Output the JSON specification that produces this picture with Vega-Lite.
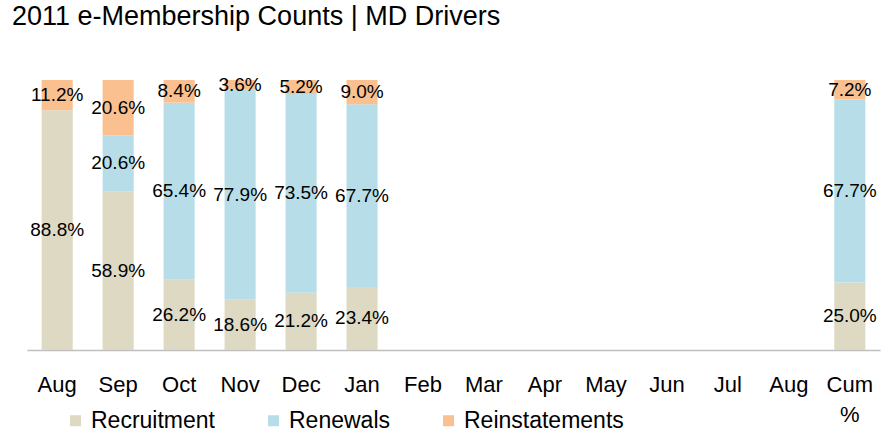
{
  "$schema": "https://vega.github.io/schema/vega-lite/v6.json",
  "width": 853,
  "height": 270,
  "autosize": {"type": "none"},
  "padding": {"left": 27, "top": 80, "right": 7, "bottom": 93},
  "background": "white",
  "title": {
    "text": "2011 e-Membership Counts | MD Drivers",
    "anchor": "start",
    "frame": "group",
    "font": "Liberation Sans",
    "fontSize": 27,
    "fontWeight": "normal",
    "color": "black",
    "dx": -15,
    "offset": 45
  },
  "data": {
    "values": [
      {"month": "Aug", "series": "Recruitment", "k": 1, "value": 0.888},
      {"month": "Aug", "series": "Reinstatements", "k": 3, "value": 0.112},
      {"month": "Sep", "series": "Recruitment", "k": 1, "value": 0.589},
      {"month": "Sep", "series": "Renewals", "k": 2, "value": 0.206},
      {"month": "Sep", "series": "Reinstatements", "k": 3, "value": 0.206},
      {"month": "Oct", "series": "Recruitment", "k": 1, "value": 0.262},
      {"month": "Oct", "series": "Renewals", "k": 2, "value": 0.654},
      {"month": "Oct", "series": "Reinstatements", "k": 3, "value": 0.084},
      {"month": "Nov", "series": "Recruitment", "k": 1, "value": 0.186},
      {"month": "Nov", "series": "Renewals", "k": 2, "value": 0.779},
      {"month": "Nov", "series": "Reinstatements", "k": 3, "value": 0.036},
      {"month": "Dec", "series": "Recruitment", "k": 1, "value": 0.212},
      {"month": "Dec", "series": "Renewals", "k": 2, "value": 0.735},
      {"month": "Dec", "series": "Reinstatements", "k": 3, "value": 0.052},
      {"month": "Jan", "series": "Recruitment", "k": 1, "value": 0.234},
      {"month": "Jan", "series": "Renewals", "k": 2, "value": 0.677},
      {"month": "Jan", "series": "Reinstatements", "k": 3, "value": 0.09},
      {"month": "Cum", "series": "Recruitment", "k": 1, "value": 0.25},
      {"month": "Cum", "series": "Renewals", "k": 2, "value": 0.677},
      {"month": "Cum", "series": "Reinstatements", "k": 3, "value": 0.072}
    ]
  },
  "encoding": {
    "x": {
      "field": "month",
      "type": "nominal",
      "sort": null,
      "scale": {
        "domain": ["Aug", "Sep", "Oct", "Nov", "Dec", "Jan", "Feb", "Mar", "Apr", "May", "Jun", "Jul", "Aug2", "Cum"],
        "paddingInner": 0.49,
        "paddingOuter": 0.24
      },
      "axis": {
        "title": null,
        "labelAngle": 0,
        "labelExpr": "datum.value == 'Aug2' ? 'Aug' : (datum.value == 'Cum' ? ['Cum', '%'] : datum.value)",
        "labelFont": "Liberation Sans",
        "labelFontSize": 22,
        "labelColor": "black",
        "labelPadding": 24,
        "labelLineHeight": 30,
        "labelBaseline": "top",
        "ticks": false,
        "domainColor": "#bfbfbf",
        "domainWidth": 1.5,
        "grid": false
      }
    },
    "y": {
      "field": "value",
      "type": "quantitative",
      "stack": "normalize",
      "axis": null
    },
    "order": {"field": "k", "type": "quantitative"}
  },
  "layer": [
    {
      "mark": {"type": "bar"},
      "encoding": {
        "color": {
          "field": "series",
          "type": "nominal",
          "scale": {
            "domain": ["Recruitment", "Renewals", "Reinstatements"],
            "range": ["#DDD9C3", "#B7DEE8", "#FAC090"]
          },
          "legend": {
            "title": null,
            "orient": "none",
            "direction": "horizontal",
            "legendX": 37,
            "legendY": 329,
            "symbolType": "square",
            "symbolSize": 121,
            "symbolStrokeWidth": 0,
            "labelFont": "Liberation Sans",
            "labelFontSize": 23,
            "labelColor": "black",
            "labelOffset": 4,
            "columnPadding": 47,
            "padding": 0
          }
        }
      }
    },
    {
      "mark": {"type": "text", "font": "Liberation Sans", "fontSize": 19, "color": "black", "baseline": "middle"},
      "encoding": {
        "y": {
          "field": "value",
          "type": "quantitative",
          "stack": "normalize",
          "bandPosition": 0.5,
          "axis": null
        },
        "text": {"field": "value", "type": "quantitative", "format": ".1%"}
      }
    }
  ],
  "config": {
    "view": {"stroke": null}
  }
}
